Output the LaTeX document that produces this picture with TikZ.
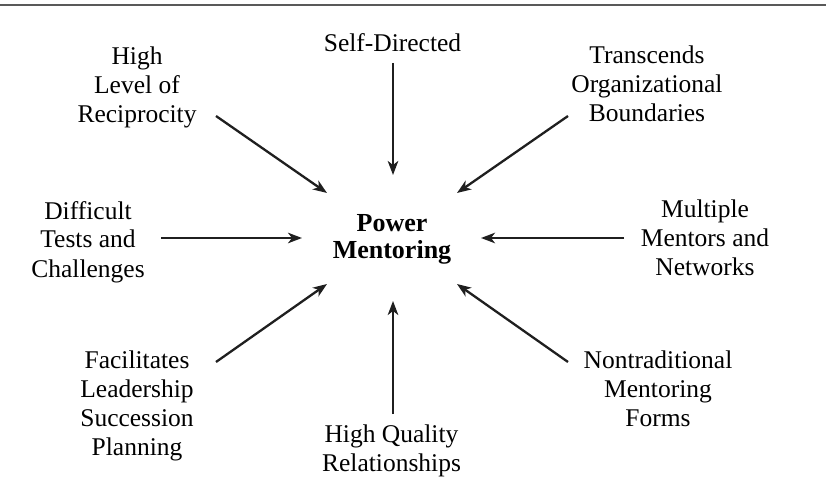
\documentclass[tikz,border=0pt]{standalone}
\usepackage{fontspec}
\setmainfont{Liberation Serif}
\usetikzlibrary{arrows.meta}
\begin{document}
\begin{tikzpicture}[x=1pt,y=-1pt,
  lbl/.style={align=center,font=\fontsize{25.5}{29}\selectfont,inner sep=0pt,anchor=base},
  ctr/.style={align=center,font=\fontsize{26}{28}\selectfont\bfseries,inner sep=0pt,anchor=base},
  arr/.style={line width=2.3pt,draw=black!88,-{Stealth[length=14pt,width=10.5pt,inset=4pt]}}]
\useasboundingbox (0,0) rectangle (826,502);
\draw[line width=1.5pt,black!65] (0,5) -- (826,5);
% base anchor of a multi-line node is the baseline of its last line
\node[ctr] (pm) at (392,259) {Power\\Mentoring};
\node[lbl] (hl) at (137,123) {High\\Level of\\Reciprocity};
\node[lbl] (sd) at (392.5,52) {Self-Directed};
\node[lbl] (tc) at (647,122) {Transcends\\Organizational\\Boundaries};
\node[lbl] (dt) at (88,277) {Difficult\\Tests and\\Challenges};
\node[lbl] (mm) at (705,276) {Multiple\\Mentors and\\Networks};
\node[lbl] (fl) at (137,455) {Facilitates\\Leadership\\Succession\\Planning};
\node[lbl] (hq) at (391.5,471) {High Quality\\Relationships};
\node[lbl] (nm) at (658,426) {Nontraditional\\Mentoring\\Forms};
\coordinate (a1s) at (216,116); \coordinate (a1e) at (327,193);
\coordinate (a2s) at (393,63);  \coordinate (a2e) at (393,175);
\coordinate (a3s) at (568,116); \coordinate (a3e) at (457,193);
\coordinate (a4s) at (161,238); \coordinate (a4e) at (302,238);
\coordinate (a5s) at (624,238); \coordinate (a5e) at (481,238);
\coordinate (a6s) at (216,362); \coordinate (a6e) at (327,284);
\coordinate (a7s) at (393,414); \coordinate (a7e) at (393,301);
\coordinate (a8s) at (568,362); \coordinate (a8e) at (457,284);
\foreach \i in {1,...,8} {\draw[arr] (a\i s) -- (a\i e);}
\end{tikzpicture}
\end{document}
